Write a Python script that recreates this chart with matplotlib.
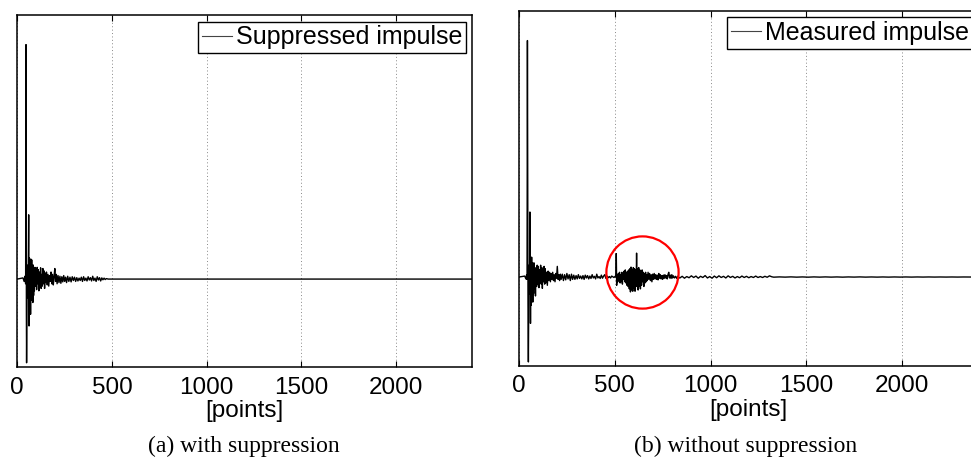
import numpy as np
import matplotlib
matplotlib.use("Agg")
import matplotlib.pyplot as plt

# ---------------- data ----------------
xticks = [0, 500, 1000, 1500, 2000]
xlabel = "[points]"
legend_a = "Suppressed impulse"
legend_b = "Measured impulse"
caption_a = "(a) with suppression"
caption_b = "(b) without suppression"

# (a) suppressed impulse
supp_x = [0, 30, 36, 40, 44, 46, 48, 49, 52, 56, 58, 60, 62, 64, 66, 68, 70, 72, 74, 76,
          78, 80, 82, 84, 86, 88, 90, 93, 96, 99, 102, 105, 108, 111, 114, 117, 120, 123,
          126, 129, 132, 135, 138, 141, 144, 147, 150, 154, 158, 162, 166, 170, 174, 178,
          182, 186, 190, 194, 198, 202, 206, 210, 215, 220, 225, 230, 235, 240, 245, 250,
          255, 260, 266, 272, 278, 284, 290, 296, 302, 308, 314, 320, 326, 332, 338, 344,
          350, 356, 362, 368, 374, 380, 386, 392, 398, 404, 410, 416, 422, 428, 434, 440,
          446, 452, 458, 464, 470, 480, 2400]
supp_y = [0.0, 0.005, -0.01, 0.012, -0.02, 1.0, -0.15, -0.357, 0.06, -0.08, 0.05, 0.274,
          -0.2, 0.09, -0.12, 0.07, -0.15, 0.085, -0.06, 0.082, -0.09, 0.05, -0.1, 0.06,
          -0.07, 0.04, -0.05, 0.05, -0.03, 0.045, -0.045, 0.05, -0.02, 0.04, -0.05, 0.03,
          -0.035, 0.048, -0.04, 0.02, -0.03, 0.045, -0.02, 0.035, -0.04, 0.025, -0.015,
          0.03, -0.025, 0.02, -0.03, 0.015, -0.01, 0.03, -0.02, 0.02, -0.025, 0.01, 0.045,
          -0.01, 0.02, -0.02, 0.015, -0.015, 0.012, -0.018, 0.01, -0.012, 0.015, -0.01,
          0.008, -0.015, 0.012, -0.01, 0.008, -0.012, 0.01, -0.006, 0.008, -0.01, 0.006,
          -0.008, 0.004, -0.006, 0.008, -0.01, 0.01, -0.006, 0.004, -0.008, 0.01, -0.004,
          0.006, -0.008, 0.012, -0.006, 0.004, -0.01, 0.01, -0.004, 0.006, -0.008, 0.005,
          -0.003, 0.004, -0.002, 0.002, 0.0, 0.0]

# (b) measured impulse
meas_x = [0, 30, 36, 40, 42, 44, 47, 49, 52, 55, 57, 60, 62, 64, 66, 68, 70, 72, 74, 76,
          78, 80, 83, 86, 89, 92, 95, 98, 101, 104, 107, 110, 113, 116, 119, 122, 125, 128,
          131, 134, 137, 140, 144, 148, 152, 156, 160, 164, 168, 172, 176, 180, 184, 188,
          192, 196, 200, 204, 208, 212, 216, 220, 226, 232, 238, 244, 250, 256, 262, 268,
          274, 280, 286, 292, 298, 304, 310, 316, 322, 328, 334, 340, 346, 352, 358, 364,
          370, 376, 382, 388, 394, 400, 406, 412, 418, 424, 430, 436, 442, 448, 454, 460,
          466, 472, 478, 484, 490, 496, 502, 506,
          508, 510, 513, 516, 519, 522, 525, 528, 531, 534, 537, 540, 543, 546, 549, 552,
          555, 558, 561, 564, 567, 570, 573, 576, 579, 582, 585, 588, 591, 594, 597, 600,
          603, 606, 609, 612, 614, 616, 619, 622, 625, 628, 631, 634, 637, 640, 643, 646,
          649, 652, 655, 658, 661, 664, 667, 670, 674, 678, 682, 686, 690, 694, 698, 702,
          706, 710, 714, 718, 722, 726, 730, 734, 738, 742, 746, 750, 754, 758, 762, 766,
          770, 774, 778, 782, 786, 790, 794, 798, 802, 806, 812, 818, 824, 830, 836,
          840, 852, 864, 876, 888, 900, 912, 924, 936, 948, 960, 972, 984, 996, 1008, 1020,
          1032, 1044, 1056, 1068, 1080, 1092, 1104, 1116, 1128, 1140, 1152, 1164, 1176,
          1188, 1200, 1212, 1224, 1236, 1248, 1260, 1272, 1284, 1296, 1308, 1320,
          1330, 1360, 1390, 1420, 1450, 1480, 1510, 1540, 1570, 1600, 1630, 1660, 1690,
          1720, 1750, 1780, 1810, 1840, 1870, 1900, 1930, 1960, 1990, 2020, 2050, 2080,
          2110, 2140, 2170, 2200, 2230, 2260, 2290, 2320, 2350, 2380, 2400]
meas_y = [0.0, 0.004, -0.008, 0.01, -0.01, 1.0, -0.12, -0.359, 0.05, -0.07, 0.275, -0.196,
          0.07, -0.12, 0.084, -0.09, 0.06, -0.106, 0.05, -0.07, 0.06, -0.05, 0.04, -0.08,
          0.03, -0.04, 0.05, -0.03, 0.045, -0.045, 0.03, -0.02, 0.05, -0.03, 0.04, -0.048,
          0.03, -0.02, 0.045, -0.03, 0.035, -0.025, 0.02, -0.035, 0.025, -0.015, 0.02,
          -0.02, 0.015, -0.01, 0.02, -0.015, 0.01, -0.02, 0.015, -0.005, 0.045, -0.01,
          0.01, -0.015, 0.012, -0.01, 0.012, -0.015, 0.01, -0.012, 0.015, -0.008, 0.01,
          -0.015, 0.012, -0.01, 0.008, -0.01, 0.006, -0.008, 0.01, -0.006, 0.004, -0.008,
          0.006, -0.01, 0.008, -0.004, 0.006, -0.008, 0.004, -0.006, 0.01, -0.004, 0.003,
          -0.008, 0.012, -0.004, 0.002, -0.006, 0.008, -0.005, 0.004, 0.01, -0.006, 0.004,
          -0.003, 0.002, -0.004, 0.004, 0.001, -0.002, 0.003, 0.0,
          0.099, -0.035, 0.01, -0.02, 0.015, -0.01, 0.02, -0.025, 0.01, -0.02, 0.02, -0.03,
          0.015, -0.01, 0.025, -0.02, 0.03, -0.025, 0.02, -0.035, 0.025, -0.04, 0.03,
          -0.05, 0.035, -0.063, 0.042, -0.055, 0.03, -0.06, 0.04, -0.045, 0.035, -0.06,
          0.03, -0.03, 0.101, -0.04, 0.035, -0.055, 0.04, -0.04, 0.03, -0.05, 0.025,
          -0.035, 0.03, -0.02, 0.02, -0.04, 0.015, -0.025, 0.02, -0.02, 0.01, -0.015,
          0.02, -0.01, 0.015, -0.015, 0.01, -0.02, 0.012, -0.01, 0.015, -0.008, 0.01,
          -0.01, 0.008, -0.012, 0.015, -0.005, 0.01, -0.008, 0.006, -0.01, 0.008, -0.006,
          0.01, -0.004, 0.006, -0.008, 0.01, 0.02, -0.004, 0.008, -0.006, 0.01, -0.004,
          0.005, -0.004, 0.003, -0.006, 0.004, -0.003,
          -0.004, 0.003, -0.005, 0.002, -0.003, 0.005, -0.002, 0.004, -0.005, 0.003,
          -0.002, 0.006, -0.004, 0.002, -0.005, 0.004, -0.003, 0.005, -0.002, 0.003,
          -0.004, 0.005, -0.002, 0.003, -0.004, 0.002, -0.003, 0.004, -0.002, 0.003,
          -0.003, 0.002, -0.002, 0.004, -0.002, 0.002, -0.002, 0.003, -0.001, 0.005, 0.001,
          -0.0006, 0.0005, -0.0004, 0.0006, -0.0005, 0.0004, -0.0006, 0.0005, -0.0004,
          0.0005, -0.0004, 0.0004, -0.0005, 0.0004, -0.0003, 0.0005, -0.0004, 0.0003,
          -0.0004, 0.0003, -0.0004, 0.0003, -0.0003, 0.0003, -0.0003, 0.0003, -0.0002,
          0.0003, -0.0002, 0.0002, -0.0002, 0.0002, -0.0002, 0.0002, -0.0001, 0.0, 0.0]

# highlighted region (circle) in panel (b)
circle_x = 641
circle_y = 0.02

xlim = (0, 2400)
ylim = (-0.375, 1.125)

# ---------------- figure ----------------
W, H = 971, 457
fig = plt.figure(figsize=(W / 100, H / 100), dpi=100)
sans = ["Liberation Sans", "DejaVu Sans"]
serif = ["Liberation Serif", "DejaVu Serif"]

def px_axes(left, top, right, bottom):
    return fig.add_axes([left / W, 1 - bottom / H, (right - left) / W, (bottom - top) / H])

ax_a = px_axes(17.3, 15.3, 472.0, 367.0)
ax_b = px_axes(519.0, 11.0, 978.6, 365.7)

for ax, xs, ys, lab in [(ax_a, supp_x, supp_y, legend_a), (ax_b, meas_x, meas_y, legend_b)]:
    ax.plot(xs, ys, color="black", lw=1.0, label=lab)
    ax.set_xlim(*xlim)
    ax.set_ylim(*ylim)
    ax.set_xticks(xticks)
    ax.set_yticks([])
    ax.tick_params(axis="x", direction="in", top=True, length=4, width=0.8, pad=7,
                   labelsize=17.5)
    for lbl in ax.get_xticklabels():
        lbl.set_family(sans)
    ax.grid(axis="x", linestyle=(0, (1, 2.5)), color="#888888", lw=0.7)
    for s in ax.spines.values():
        s.set_linewidth(1.1)
        s.set_color("black")
    ax.set_xlabel(xlabel, family=sans, fontsize=17.5, labelpad=1)
    leg = ax.legend(loc="upper right", prop={"family": sans, "size": 18},
                    fancybox=False, framealpha=1, edgecolor="black",
                    handlelength=1.2, handletextpad=0.15, borderpad=0.15,
                    borderaxespad=0.25)
    leg.get_frame().set_linewidth(1.0)
    for h in leg.get_lines():
        h.set_color("#444444")
        h.set_linewidth(0.8)

ax_b.plot([circle_x], [circle_y], marker="o", ms=52, mfc="none", mec="red", mew=1.6,
          linestyle="none")

fig.text(244 / W, 1 - 446 / H, caption_a, family=serif, fontsize=17, ha="center", va="center")
fig.text(746 / W, 1 - 446 / H, caption_b, family=serif, fontsize=17, ha="center", va="center")

fig.savefig("out.png", dpi=100)
